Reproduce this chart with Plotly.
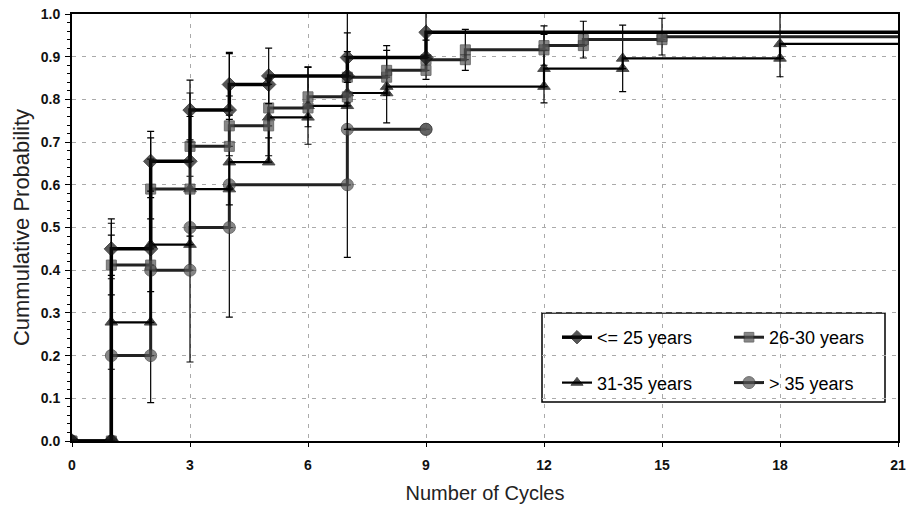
import plotly.graph_objects as go

# ---- data ----
series_names = ["<= 25 years", "26-30 years", "31-35 years", "> 35 years"]

cycles_le25 = [0, 1, 2, 3, 4, 5, 7, 9]
prob_le25 = [0, 0.45, 0.655, 0.775, 0.835, 0.855, 0.898, 0.957]
err_le25 = [None, 0.07, 0.07, 0.07, 0.072, 0.065, 0.058, 0.055]

cycles_26_30 = [0, 1, 2, 3, 4, 5, 6, 7, 8, 9, 10, 12, 13, 15]
prob_26_30 = [0, 0.412, 0.59, 0.69, 0.738, 0.78, 0.806, 0.852, 0.868, 0.893, 0.916, 0.926, 0.94, 0.947]
err_26_30 = [None, 0.07, 0.07, 0.07, 0.07, 0.07, 0.07, 0.06, 0.058, 0.046, 0.048, 0.046, 0.043, 0.043]

cycles_31_35 = [0, 1, 2, 3, 4, 5, 6, 7, 8, 12, 14, 18]
prob_31_35 = [0, 0.278, 0.46, 0.59, 0.653, 0.758, 0.785, 0.815, 0.83, 0.872, 0.896, 0.93]
err_31_35 = [None, 0.11, 0.11, 0.11, 0.1, 0.09, 0.09, 0.085, 0.085, 0.08, 0.078, 0.077]

cycles_gt35 = [0, 1, 2, 3, 4, 7, 9]
prob_gt35 = [0, 0.2, 0.4, 0.5, 0.6, 0.73, 0.73]
err_gt35 = [None, 0.31, 0.31, 0.315, 0.31, 0.30, None]

x_end = 21
x_ticks = [0, 3, 6, 9, 12, 15, 18, 21]
y_ticks = [0.0, 0.1, 0.2, 0.3, 0.4, 0.5, 0.6, 0.7, 0.8, 0.9, 1.0]

styles = [
    dict(symbol="diamond", size=11, fill="#111111", edge="#000000", line="#000000", lw=3.5, extend=True, legend="legend"),
    dict(symbol="square", size=10, fill="#555555", edge="#333333", line="#222222", lw=3.0, extend=True, legend="legend2"),
    dict(symbol="triangle-up", size=11, fill="#000000", edge="#000000", line="#000000", lw=2.2, extend=True, legend="legend"),
    dict(symbol="circle", size=12, fill="#555555", edge="#333333", line="#222222", lw=3.0, extend=False, legend="legend2"),
]

data = [
    (cycles_le25, prob_le25, err_le25),
    (cycles_26_30, prob_26_30, err_26_30),
    (cycles_31_35, prob_31_35, err_31_35),
    (cycles_gt35, prob_gt35, err_gt35),
]


def step_vertices(xs, ys, errs, extend):
    vx, vy, ve, vs = [xs[0]], [ys[0]], [None], [1]
    for i in range(1, len(xs)):
        vx += [xs[i], xs[i]]
        vy += [ys[i - 1], ys[i]]
        ve += [None, errs[i]]
        vs += [1, 1]
    if extend:
        vx.append(x_end)
        vy.append(ys[-1])
        ve.append(None)
        vs.append(0)
    return vx, vy, ve, vs


fig = go.Figure()
# draw order: > 35 at back, then 31-35, 26-30, <=25 on top
for idx in [3, 2, 1, 0]:
    xs, ys, errs = data[idx]
    st = styles[idx]
    vx, vy, ve, vs = step_vertices(xs, ys, errs, st["extend"])
    fig.add_trace(go.Scatter(
        x=vx, y=vy, mode="lines+markers", name=series_names[idx],
        legend=st["legend"], legendgroup=series_names[idx], legendrank=idx,
        line=dict(color=st["line"], width=st["lw"]),
        marker=dict(symbol=st["symbol"], size=[st["size"] * s for s in vs],
                    color=st["fill"], line=dict(color=st["edge"], width=1)),
        error_y=dict(type="data", array=ve, symmetric=True, color="#000000",
                     thickness=1.2, width=3.5),
    ))

# legend frame (paper coords derived from the plot area 72..898 x 14..441 in pixels)
fig.add_shape(type="rect", xref="paper", yref="paper",
              x0=(542 - 72) / 826, x1=(885 - 72) / 826,
              y0=(441 - 402) / 427, y1=(441 - 313) / 427,
              line=dict(color="#000000", width=1.5), fillcolor="#ffffff", layer="below")

legend_common = dict(
    font=dict(family="Liberation Sans, Arial, sans-serif", size=18, color="#000000"),
    bgcolor="rgba(0,0,0,0)", borderwidth=0, traceorder="grouped",
    tracegroupgap=19, yanchor="top", xanchor="left", itemwidth=30,
)

tick_font = dict(family="Liberation Sans, Arial", size=14, color="#111111", weight="bold")

fig.update_layout(
    width=907, height=509,
    margin=dict(l=72, r=9, t=14, b=68, autoexpand=False),
    paper_bgcolor="#ffffff", plot_bgcolor="#ffffff",
    showlegend=True,
    legend=dict(x=(557 - 72) / 826, y=(441 - 319) / 427, **legend_common),
    legend2=dict(x=(729 - 72) / 826, y=(441 - 319) / 427, **legend_common),
    xaxis=dict(
        range=[0, 21], tickvals=x_ticks, ticktext=[str(v) for v in x_ticks],
        automargin=False, ticklabeloverflow="allow",
        showgrid=True, gridcolor="#aaaaaa", griddash="4px,6px", gridwidth=1,
        showline=True, linecolor="#000000", linewidth=2, mirror=True,
        ticks="outside", ticklen=4, tickcolor="#000000", zeroline=False,
        ticklabelstandoff=6,
        tickfont=tick_font,
        title=dict(text="Number of Cycles", font=dict(family="Liberation Sans, Arial", size=20, color="#222222"), standoff=14),
    ),
    yaxis=dict(
        range=[0, 1.0], tickvals=y_ticks, ticktext=[f"{v:.1f}" for v in y_ticks],
        automargin=False, ticklabeloverflow="allow",
        showgrid=True, gridcolor="#aaaaaa", griddash="4px,6px", gridwidth=1,
        showline=True, linecolor="#000000", linewidth=2, mirror=True,
        ticks="outside", ticklen=5, tickcolor="#000000", zeroline=False,
        ticklabelstandoff=2,
        minor=dict(dtick=0.02, ticks="outside", ticklen=3, tickcolor="#000000", showgrid=False),
        tickfont=tick_font,
        title=dict(text="Cummulative Probability", font=dict(family="Liberation Sans, Arial", size=22, color="#222222"), standoff=5),
    ),
)

# remove the browser's default 8px page margin so the figure fills the window exactly
fig.write_html(
    "out.html",
    config={"displayModeBar": False},
    post_script="document.body.style.margin='0';document.body.style.overflow='hidden';",
)
